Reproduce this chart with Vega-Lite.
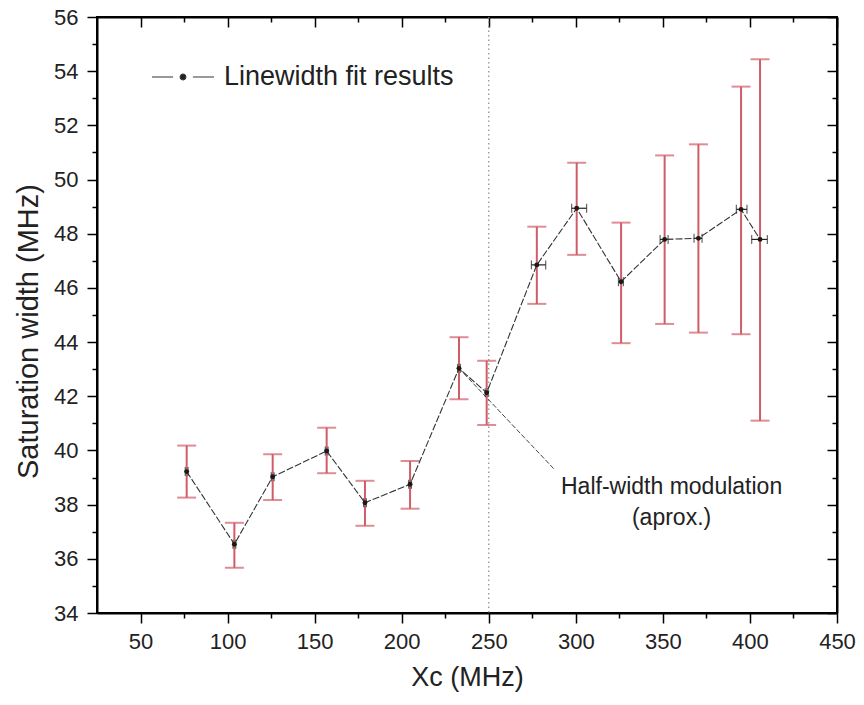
{
  "$schema": "https://vega.github.io/schema/vega-lite/v6.json",
  "width": 740,
  "height": 596,
  "autosize": "none",
  "padding": {"left": 97, "top": 17, "right": 27, "bottom": 92},
  "background": "white",
  "config": {
    "font": "Liberation Sans",
    "view": {"stroke": "black", "strokeWidth": 2},
    "axis": {"grid": false}
  },
  "datasets": {
    "pts": [
      {"x": 76.5, "y": 39.22, "ylo": 38.26, "yhi": 40.18, "xlo": 75.7, "xhi": 77.3},
      {"x": 103.9, "y": 36.54, "ylo": 35.67, "yhi": 37.33, "xlo": 103.1, "xhi": 104.7},
      {"x": 125.9, "y": 39.03, "ylo": 38.17, "yhi": 39.86, "xlo": 125.1, "xhi": 126.7},
      {"x": 156.9, "y": 39.98, "ylo": 39.16, "yhi": 40.84, "xlo": 156.1, "xhi": 157.7},
      {"x": 178.9, "y": 38.07, "ylo": 37.22, "yhi": 38.88, "xlo": 178.1, "xhi": 179.7},
      {"x": 204.8, "y": 38.75, "ylo": 37.85, "yhi": 39.61, "xlo": 204.0, "xhi": 205.6},
      {"x": 232.9, "y": 43.03, "ylo": 41.89, "yhi": 44.18, "xlo": 232.1, "xhi": 233.7},
      {"x": 248.8, "y": 42.13, "ylo": 40.94, "yhi": 43.31, "xlo": 248.0, "xhi": 249.6},
      {"x": 277.6, "y": 46.85, "ylo": 45.41, "yhi": 48.26, "xlo": 274.5, "xhi": 282.7},
      {"x": 300.5, "y": 48.94, "ylo": 47.22, "yhi": 50.62, "xlo": 297.6, "xhi": 306.2},
      {"x": 326.0, "y": 46.23, "ylo": 43.96, "yhi": 48.41, "xlo": 324.5, "xhi": 327.3},
      {"x": 351.0, "y": 47.79, "ylo": 44.67, "yhi": 50.89, "xlo": 348.4, "xhi": 353.0},
      {"x": 370.4, "y": 47.83, "ylo": 44.35, "yhi": 51.30, "xlo": 367.9, "xhi": 372.5},
      {"x": 394.9, "y": 48.90, "ylo": 44.29, "yhi": 53.43, "xlo": 392.2, "xhi": 398.3},
      {"x": 405.8, "y": 47.79, "ylo": 41.10, "yhi": 54.44, "xlo": 401.0, "xhi": 410.0}
    ],
    "annot": [{"x": 232.9, "y": 43.03, "x2": 288.0, "y2": 39.28}],
    "labels": [
      {"x": 355, "y": 38.65, "text": "Half-width modulation"},
      {"x": 355, "y": 37.5, "text": "(aprox.)"}
    ],
    "vline": [{"x": 250}]
  },
  "data": {"name": "pts"},
  "resolve": {"axis": {"x": "independent", "y": "independent"}},
  "layer": [
    {
      "data": {"name": "vline"},
      "mark": {"type": "rule", "color": "#8a8a8a", "strokeDash": [1.5, 3], "strokeWidth": 1.2},
      "encoding": {
        "x": {"field": "x", "type": "quantitative", "scale": {"domain": [25, 450], "nice": false, "zero": false}, "axis": null}
      }
    },
    {
      "data": {"name": "annot"},
      "mark": {"type": "rule", "color": "#444", "strokeDash": [5, 2], "strokeWidth": 1},
      "encoding": {
        "x": {"field": "x", "type": "quantitative", "scale": {"domain": [25, 450], "nice": false, "zero": false}, "axis": null},
        "y": {"field": "y", "type": "quantitative", "scale": {"domain": [34, 56], "nice": false, "zero": false}, "axis": null},
        "x2": {"field": "x2"},
        "y2": {"field": "y2"}
      }
    },
    {
      "mark": {"type": "errorbar", "color": "#d05c68", "thickness": 2, "ticks": {"size": 19, "thickness": 2, "color": "#d05c68"}},
      "encoding": {
        "x": {"field": "x", "type": "quantitative", "scale": {"domain": [25, 450], "nice": false, "zero": false}, "axis": null},
        "y": {"field": "ylo", "type": "quantitative", "scale": {"domain": [34, 56], "nice": false, "zero": false}, "axis": null},
        "y2": {"field": "yhi"}
      }
    },
    {
      "mark": {"type": "errorbar", "color": "#222", "thickness": 1.2, "ticks": {"size": 9, "thickness": 1.2, "color": "#222"}},
      "encoding": {
        "y": {"field": "y", "type": "quantitative", "scale": {"domain": [34, 56], "nice": false, "zero": false}, "axis": null},
        "x": {"field": "xlo", "type": "quantitative", "scale": {"domain": [25, 450], "nice": false, "zero": false}, "axis": null},
        "x2": {"field": "xhi"}
      }
    },
    {
      "mark": {"type": "line", "strokeWidth": 1.1, "strokeDash": [7, 2]},
      "encoding": {
        "x": {
          "field": "x", "type": "quantitative",
          "scale": {"domain": [25, 450], "nice": false, "zero": false},
          "axis": {
            "orient": "top",
            "values": [50, 75, 100, 125, 150, 175, 200, 225, 250, 275, 300, 325, 350, 375, 400, 425, 450],
            "labels": false, "title": null,
            "tickColor": "black", "tickWidth": 1.5,
            "tickSize": {"condition": {"test": "datum.value % 50 === 0", "value": -10}, "value": -5},
            "domainColor": "black", "domainWidth": 2
          }
        },
        "y": {
          "field": "y", "type": "quantitative",
          "scale": {"domain": [34, 56], "nice": false, "zero": false},
          "axis": {
            "orient": "right",
            "values": [34, 35, 36, 37, 38, 39, 40, 41, 42, 43, 44, 45, 46, 47, 48, 49, 50, 51, 52, 53, 54, 55, 56],
            "labels": false, "title": null,
            "tickColor": "black", "tickWidth": 1.5,
            "tickSize": {"condition": {"test": "datum.value % 2 === 0", "value": -10}, "value": -5},
            "domainColor": "black", "domainWidth": 2
          }
        },
        "color": {
          "datum": "Linewidth fit results", "type": "nominal",
          "scale": {"range": ["#333"]},
          "legend": {
            "orient": "none", "legendX": 54, "legendY": 28, "title": null, "padding": 0,
            "symbolType": "M-1,0H-0.32M0.32,0H1M-0.09,0A0.09,0.09,0,1,0,0.09,0A0.09,0.09,0,1,0,-0.09,0Z",
            "symbolSize": 3844, "symbolStrokeWidth": 1.2, "symbolStrokeColor": "#555",
            "symbolFillColor": "#222", "symbolDash": [1, 0],
            "labelFontSize": 27, "labelColor": "#222", "labelOffset": 9, "labelLimit": 400,
            "encode": {"symbols": {"update": {"fill": {"value": "#222"}, "stroke": {"value": "#555"}}}}
          }
        }
      }
    },
    {
      "mark": {"type": "circle", "size": 24, "color": "#1a1a1a", "opacity": 1},
      "encoding": {
        "x": {
          "field": "x", "type": "quantitative",
          "scale": {"domain": [25, 450], "nice": false, "zero": false},
          "axis": {
            "orient": "bottom",
            "values": [50, 75, 100, 125, 150, 175, 200, 225, 250, 275, 300, 325, 350, 375, 400, 425, 450],
            "labelExpr": "datum.value % 50 === 0 ? datum.label : ''",
            "labelFontSize": 22, "labelColor": "#222", "labelPadding": 8,
            "labelOverlap": false, "labelFlush": false,
            "tickColor": "black", "tickWidth": 1.5,
            "tickSize": {"condition": {"test": "datum.value % 50 === 0", "value": 10}, "value": 5},
            "domainColor": "black", "domainWidth": 2,
            "title": "Xc (MHz)", "titleFontSize": 27, "titleFontWeight": "normal", "titleColor": "#222", "titlePadding": 12
          }
        },
        "y": {
          "field": "y", "type": "quantitative",
          "scale": {"domain": [34, 56], "nice": false, "zero": false},
          "axis": {
            "orient": "left",
            "values": [34, 35, 36, 37, 38, 39, 40, 41, 42, 43, 44, 45, 46, 47, 48, 49, 50, 51, 52, 53, 54, 55, 56],
            "labelExpr": "datum.value % 2 === 0 ? datum.label : ''",
            "labelFontSize": 22, "labelColor": "#222", "labelPadding": 9,
            "labelOverlap": false, "labelFlush": false,
            "tickColor": "black", "tickWidth": 1.5,
            "tickSize": {"condition": {"test": "datum.value % 2 === 0", "value": 10}, "value": 5},
            "domainColor": "black", "domainWidth": 2,
            "title": "Saturation width (MHz)", "titleFontSize": 29, "titleFontWeight": "normal", "titleColor": "#222",
            "titlePadding": 10, "titleY": 314
          }
        }
      }
    },
    {
      "data": {"name": "labels"},
      "mark": {"type": "text", "fontSize": 23, "color": "#222", "align": "center", "baseline": "middle"},
      "encoding": {
        "x": {"field": "x", "type": "quantitative", "scale": {"domain": [25, 450], "nice": false, "zero": false}, "axis": null},
        "y": {"field": "y", "type": "quantitative", "scale": {"domain": [34, 56], "nice": false, "zero": false}, "axis": null},
        "text": {"field": "text"}
      }
    }
  ]
}
